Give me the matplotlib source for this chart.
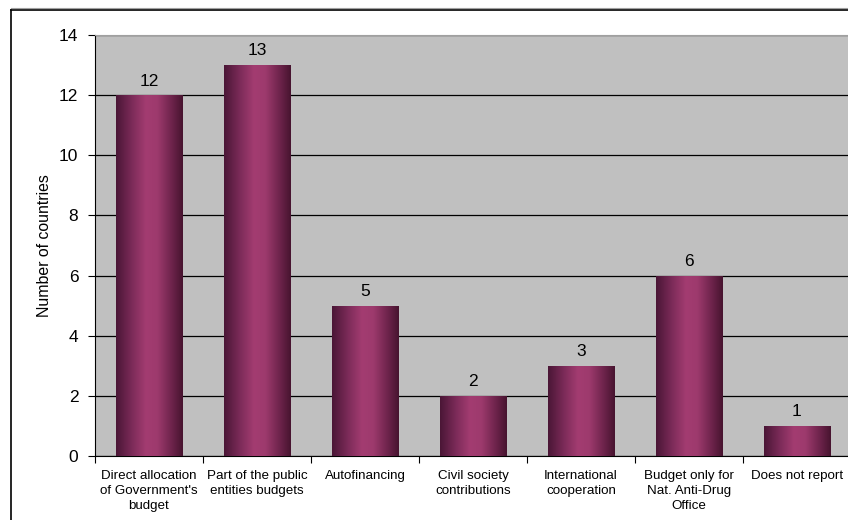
import numpy as np
import matplotlib
matplotlib.use("Agg")
import matplotlib.pyplot as plt
from matplotlib.colors import LinearSegmentedColormap
from matplotlib.lines import Line2D

categories = [
    "Direct allocation\nof Government's\nbudget",
    "Part of the public\nentities budgets",
    "Autofinancing",
    "Civil society\ncontributions",
    "International\ncooperation",
    "Budget only for\nNat. Anti-Drug\nOffice",
    "Does not report",
]
counts = [12, 13, 5, 2, 3, 6, 1]
y_ticks = [0, 2, 4, 6, 8, 10, 12, 14]

plt.rcParams['font.family'] = ['Liberation Sans', 'DejaVu Sans']

fig = plt.figure(figsize=(8.48, 5.2), dpi=100)
ax = fig.add_axes([95 / 848, 1 - 456 / 520, 756 / 848, 421 / 520])
ax.set_facecolor('#c0c0c0')

# cylinder-style shading across each bar
shade = LinearSegmentedColormap.from_list(
    'cyl', [(0.0, '#4a1636'), (0.25, '#7e2c5a'), (0.45, '#a33c71'),
            (0.62, '#9d3a6d'), (0.85, '#6a2249'), (1.0, '#47142f')])
grad = np.linspace(0, 1, 256).reshape(1, -1)

x = np.arange(len(categories))
width = 0.62
bars = ax.bar(x, counts, width=width, color='#8a3060', edgecolor='none', zorder=3)
for b in bars:
    im = ax.imshow(grad, cmap=shade, aspect='auto', zorder=3.5,
                   extent=[b.get_x(), b.get_x() + b.get_width(), 0, b.get_height()],
                   interpolation='bilinear')
    im.set_clip_path(b)

for xi, v in zip(x, counts):
    ax.text(xi, v + 0.22, str(v), ha='center', va='bottom', fontsize=12.5, color='#000000')

ax.set_xlim(-0.5, len(categories) - 0.5)
ax.set_ylim(0, 14)
ax.set_yticks(y_ticks)
ax.set_yticklabels([str(t) for t in y_ticks], fontsize=12.5)
ax.yaxis.grid(True, color='#000000', linewidth=0.9, zorder=1)
ax.set_axisbelow(True)

ax.set_xticks(x)
ax.set_xticklabels(categories, fontsize=9.6, linespacing=1.36)
ax.set_xticks(np.arange(-0.5, len(categories), 1.0), minor=True)
ax.tick_params(axis='x', which='major', length=0, pad=10)
ax.tick_params(axis='x', which='minor', length=5, width=0.8, direction='out')
ax.tick_params(axis='y', length=5, width=0.8, direction='out', pad=7)

ax.spines['left'].set_color('#000000')
ax.spines['bottom'].set_color('#000000')
ax.spines['top'].set_color('#a0a0a0')
ax.spines['right'].set_visible(False)

ax.set_ylabel('Number of countries', fontsize=11.4, labelpad=5)

# outer chart frame
fig.add_artist(Line2D([11 / 848, 11 / 848], [-0.05, 1 - 9.5 / 520],
                      transform=fig.transFigure, color='#000000', linewidth=1.2))
fig.add_artist(Line2D([11 / 848, 1.05], [1 - 9.5 / 520, 1 - 9.5 / 520],
                      transform=fig.transFigure, color='#000000', linewidth=1.2))
fig.add_artist(Line2D([11 / 848, 1.05], [1 - 8 / 520, 1 - 8 / 520],
                      transform=fig.transFigure, color='#a0a0a0', linewidth=0.8))

fig.savefig('out.png', dpi=100)
